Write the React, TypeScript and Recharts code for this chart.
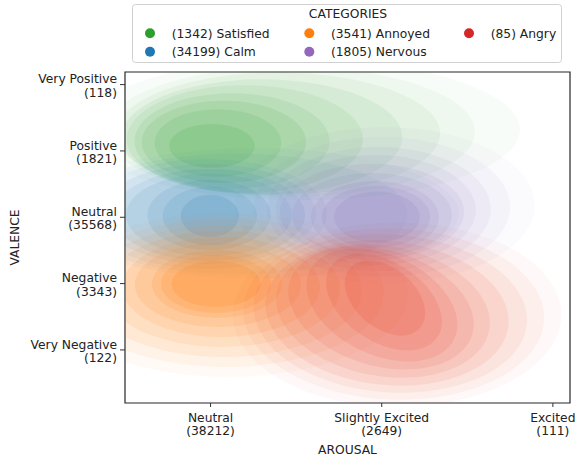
import React from 'react';
import { ScatterChart, Scatter, XAxis, YAxis, ReferenceArea } from 'recharts';

// ---------- data ----------
const CATEGORY_NAMES = ['Satisfied', 'Calm', 'Annoyed', 'Nervous', 'Angry'];
const CATEGORY_COUNTS = [1342, 34199, 3541, 1805, 85];
const CATEGORY_COLORS = ['#2ca02c', '#1f77b4', '#ff7f0e', '#9467bd', '#d62728'];
// fill tones used by the density bands (lightened hue ramps look warmer/greyer than the pure hue)
const CONTOUR_COLORS = ['#2ca02c', '#1f77b4', '#ff7f0e', '#7d6bb5', '#e8361c'];

const X_TICKS = [0, 1, 2];
const X_TICK_NAMES = ['Neutral', 'Slightly Excited', 'Excited'];
const X_TICK_COUNTS = [38212, 2649, 111];

const Y_TICKS = [-2, -1, 0, 1, 2];
const Y_TICK_NAMES = ['Very Negative', 'Negative', 'Neutral', 'Positive', 'Very Positive'];
const Y_TICK_COUNTS = [122, 3343, 35568, 1821, 118];

// density contour levels (outer -> inner), center in data units, radii in data units
const SATISFIED_LEVELS = [
  { x: 0.523, y: 1.32, rx: 1.285, ry: 1.06, rot: 0 },
  { x: 0.464, y: 1.29, rx: 1.081, ry: 0.98, rot: 0 },
  { x: 0.394, y: 1.26, rx: 0.947, ry: 0.92, rot: 0 },
  { x: 0.3, y: 1.21, rx: 0.82, ry: 0.87, rot: 0 },
  { x: 0.2, y: 1.18, rx: 0.69, ry: 0.81, rot: 0 },
  { x: 0.125, y: 1.15, rx: 0.57, ry: 0.72, rot: 0 },
  { x: 0.078, y: 1.135, rx: 0.48, ry: 0.62, rot: 0 },
  { x: 0.043, y: 1.12, rx: 0.37, ry: 0.51, rot: 0 },
  { x: 0.008, y: 1.075, rx: 0.25, ry: 0.33, rot: 0 },
];
const CALM_LEVELS = [
  { x: 0.25, y: 0.06, rx: 1.2, ry: 0.98, rot: 0 },
  { x: 0.15, y: 0.05, rx: 1.0, ry: 0.91, rot: 0 },
  { x: -0.021, y: 0.05, rx: 0.701, ry: 0.829, rot: 0 },
  { x: -0.015, y: 0.05, rx: 0.631, ry: 0.754, rot: 0 },
  { x: -0.009, y: 0.035, rx: 0.561, ry: 0.693, rot: 0 },
  { x: -0.009, y: 0.035, rx: 0.485, ry: 0.62, rot: 0 },
  { x: -0.009, y: 0.035, rx: 0.36, ry: 0.53, rot: 0 },
  { x: -0.004, y: 0.02, rx: 0.275, ry: 0.44, rot: 0 },
  { x: -0.004, y: 0.02, rx: 0.17, ry: 0.32, rot: 0 },
];
const ANNOYED_LEVELS = [
  { x: 0.102, y: -1.171, rx: 1.052, ry: 1.236, rot: 0 },
  { x: 0.09, y: -1.141, rx: 0.923, ry: 1.116, rot: 0 },
  { x: 0.078, y: -1.111, rx: 0.806, ry: 0.995, rot: 0 },
  { x: 0.067, y: -1.08, rx: 0.689, ry: 0.874, rot: 0 },
  { x: 0.061, y: -1.05, rx: 0.578, ry: 0.754, rot: 0 },
  { x: 0.043, y: -1.02, rx: 0.485, ry: 0.633, rot: 0 },
  { x: 0.037, y: -1.005, rx: 0.38, ry: 0.513, rot: 0 },
  { x: 0.032, y: -1.005, rx: 0.321, ry: 0.437, rot: 0 },
  { x: 0.032, y: -1.005, rx: 0.26, ry: 0.347, rot: 0 },
];
const NERVOUS_LEVELS = [
  { x: 1.019, y: 0.185, rx: 0.876, ry: 1.176, rot: 0 },
  { x: 1.002, y: 0.157, rx: 0.748, ry: 1.055, rot: 0 },
  { x: 0.984, y: 0.125, rx: 0.654, ry: 0.935, rot: 0 },
  { x: 0.966, y: 0.11, rx: 0.584, ry: 0.829, rot: 0 },
  { x: 0.943, y: 0.08, rx: 0.538, ry: 0.724, rot: 0 },
  { x: 0.943, y: 0.035, rx: 0.467, ry: 0.633, rot: 0 },
  { x: 0.96, y: 0.005, rx: 0.374, ry: 0.543, rot: 0 },
  { x: 0.966, y: 0.005, rx: 0.316, ry: 0.467, rot: 0 },
  { x: 0.972, y: 0.005, rx: 0.251, ry: 0.384, rot: 0 },
];
const ANGRY_LEVELS = [
  { x: 1.09, y: -1.47, rx: 0.96, ry: 1.39, rot: 0 },
  { x: 1.07, y: -1.46, rx: 0.88, ry: 1.29, rot: 2 },
  { x: 1.05, y: -1.45, rx: 0.8, ry: 1.19, rot: 4 },
  { x: 1.031, y: -1.443, rx: 0.713, ry: 1.085, rot: 6 },
  { x: 1.007, y: -1.413, rx: 0.631, ry: 0.98, rot: 10 },
  { x: 0.996, y: -1.367, rx: 0.555, ry: 0.874, rot: 16 },
  { x: 1.001, y: -1.322, rx: 0.467, ry: 0.754, rot: 25 },
  { x: 1.013, y: -1.277, rx: 0.374, ry: 0.603, rot: 33 },
  { x: 1.019, y: -1.217, rx: 0.269, ry: 0.452, rot: 40 },
];
const CATEGORY_LEVELS = [SATISFIED_LEVELS, CALM_LEVELS, ANNOYED_LEVELS, NERVOUS_LEVELS, ANGRY_LEVELS];

// ---------- layout / style ----------
const LEVEL_ALPHA = [0.03, 0.048, 0.06, 0.07, 0.08, 0.09, 0.1, 0.115, 0.13];
const CATEGORY_ALPHA_SCALE = [1, 1, 1.3, 1.0, 1.1];
const FONT = '"DejaVu Sans", sans-serif';
const FONT_SIZE = 12.3;
const TEXT_COLOR = '#222';
const W = 576;
const H = 459;
const MARGIN = { top: 72, right: 6, bottom: 0, left: 0 };
const Y_AXIS_W = 125;
const X_AXIS_H = 56;
const X_DOMAIN: [number, number] = [-0.5, 2.1];
const Y_DOMAIN: [number, number] = [-2.8, 2.19];
const PLOT_W = W - MARGIN.left - MARGIN.right - Y_AXIS_W;
const PLOT_H = H - MARGIN.top - MARGIN.bottom - X_AXIS_H;
const PX_X = PLOT_W / (X_DOMAIN[1] - X_DOMAIN[0]);
const PX_Y = PLOT_H / (Y_DOMAIN[1] - Y_DOMAIN[0]);

const EllipseShape = (props: any) => {
  const { cx, cy, payload, fill } = props;
  if (cx == null || cy == null || !payload) return <g />;
  const rx = payload.rx * PX_X;
  const ry = payload.ry * PX_Y;
  const alpha = (LEVEL_ALPHA[payload.level] ?? 0.08) * (CATEGORY_ALPHA_SCALE[payload.cat] ?? 1);
  return (
    <ellipse
      cx={cx}
      cy={cy}
      rx={rx}
      ry={ry}
      transform={`rotate(${payload.rot || 0} ${cx} ${cy})`}
      fill={fill}
      fillOpacity={alpha}
      stroke="none"
    />
  );
};

const XTick = (props: any) => {
  const { x, y, payload } = props;
  const i = X_TICKS.indexOf(payload.value);
  if (i < 0) return <g />;
  return (
    <text x={x} y={y + 12.9} textAnchor="middle" fontSize={FONT_SIZE} fontFamily={FONT} fill={TEXT_COLOR}>
      <tspan x={x} dy={0}>{X_TICK_NAMES[i]}</tspan>
      <tspan x={x} dy={13}>{`(${X_TICK_COUNTS[i]})`}</tspan>
    </text>
  );
};

const YTick = (props: any) => {
  const { x, y, payload } = props;
  const i = Y_TICKS.indexOf(payload.value);
  if (i < 0) return <g />;
  return (
    <text x={x} y={y - 1.3} textAnchor="end" fontSize={FONT_SIZE} fontFamily={FONT} fill={TEXT_COLOR}>
      <tspan x={x} dy={0}>{Y_TICK_NAMES[i]}</tspan>
      <tspan x={x} dy={13.2}>{`(${Y_TICK_COUNTS[i]})`}</tspan>
    </text>
  );
};

// legend layout: column-major, 2 rows
const LEGEND_COL_X = [150, 309.3, 469];
const LEGEND_ROW_Y = [33.3, 51.7];

const LegendBox = () => (
  <svg width={W} height={70} style={{ position: 'absolute', left: 0, top: 0, pointerEvents: 'none' }}>
    <rect x={132.5} y={4.5} width={429} height={58} rx={3} ry={3} fill="#fff" fillOpacity={0.8} stroke="#d0d0d0" strokeWidth={1} />
    <text x={348} y={18.3} textAnchor="middle" fontSize={FONT_SIZE} fontFamily={FONT} fill={TEXT_COLOR}>
      CATEGORIES
    </text>
    {CATEGORY_NAMES.map((name, i) => {
      const col = Math.floor(i / 2);
      const row = i % 2;
      const cx = LEGEND_COL_X[col];
      const cy = LEGEND_ROW_Y[row];
      return (
        <g key={name}>
          <circle cx={cx} cy={cy} r={5} fill={CATEGORY_COLORS[i]} />
          <text x={cx + 21.7} y={cy + 4.3} fontSize={FONT_SIZE} fontFamily={FONT} fill={TEXT_COLOR}>
            {`(${CATEGORY_COUNTS[i]}) ${name}`}
          </text>
        </g>
      );
    })}
  </svg>
);

export default function App() {
  return (
    <div style={{ position: 'absolute', left: 0, top: 0, width: W, height: H, background: '#fff' }}>
      <ScatterChart width={W} height={H} margin={MARGIN}>
        <XAxis
          type="number"
          dataKey="x"
          domain={X_DOMAIN}
          ticks={X_TICKS}
          interval={0}
          allowDataOverflow
          height={X_AXIS_H}
          axisLine={false}
          tickSize={4}
          tickMargin={2}
          tickLine={{ stroke: '#333', strokeWidth: 1 }}
          tick={<XTick />}
          label={{ value: 'AROUSAL', position: 'insideBottom', offset: 5, fontSize: FONT_SIZE, fontFamily: FONT, fill: TEXT_COLOR }}
        />
        <YAxis
          type="number"
          dataKey="y"
          domain={Y_DOMAIN}
          ticks={Y_TICKS}
          interval={0}
          allowDataOverflow
          width={Y_AXIS_W}
          axisLine={false}
          tickSize={5}
          tickMargin={3}
          tickLine={{ stroke: '#333', strokeWidth: 1 }}
          tick={<YTick />}
          label={{
            value: 'VALENCE',
            angle: -90,
            position: 'insideLeft',
            offset: 15,
            fontSize: FONT_SIZE,
            fontFamily: FONT,
            fill: TEXT_COLOR,
            style: { textAnchor: 'middle' },
          }}
        />
        {CATEGORY_LEVELS.map((levels, ci) => (
          <Scatter
            key={CATEGORY_NAMES[ci]}
            name={CATEGORY_NAMES[ci]}
            data={levels.map((d, li) => ({ ...d, level: li, cat: ci }))}
            fill={CONTOUR_COLORS[ci]}
            shape={EllipseShape}
            isAnimationActive={false}
          />
        ))}
        <ReferenceArea
          x1={X_DOMAIN[0]}
          x2={X_DOMAIN[1]}
          y1={Y_DOMAIN[0]}
          y2={Y_DOMAIN[1]}
          fill="none"
          fillOpacity={0}
          stroke="#262626"
          strokeWidth={1.2}
          ifOverflow="visible"
        />
      </ScatterChart>
      <LegendBox />
    </div>
  );
}
